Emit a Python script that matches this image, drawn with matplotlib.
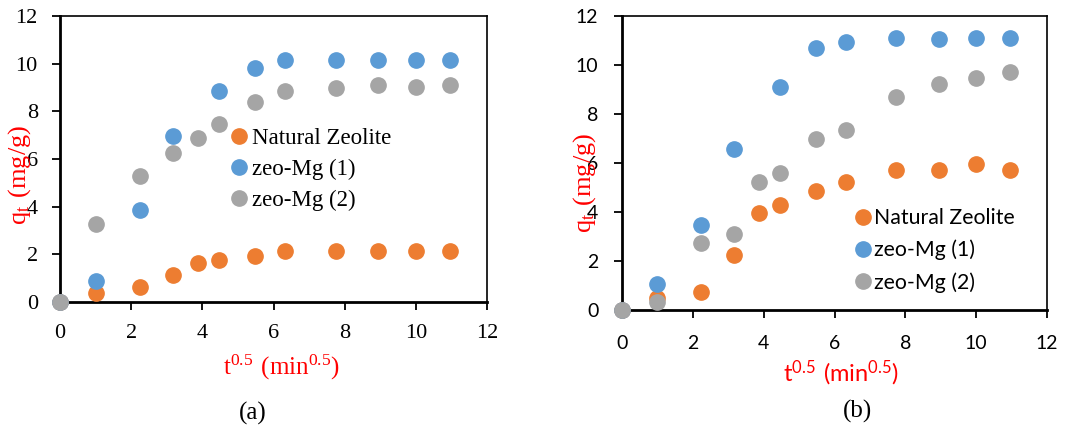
import numpy as np
import matplotlib
matplotlib.use("Agg")
import matplotlib.pyplot as plt

# sqrt(time) values
t_sqrt = [0, 1.0, 2.236, 3.162, 3.873, 4.472, 5.477, 6.325, 7.746, 8.944, 10.0, 10.954]

# Panel (a)
a_natural = [0, 0.36, 0.62, 1.12, 1.62, 1.75, 1.94, 2.13, 2.13, 2.15, 2.13, 2.13]
a_mg1 = [0, 0.88, 3.87, 6.98, np.nan, 8.87, 9.83, 10.15, 10.14, 10.14, 10.14, 10.14]
a_mg2 = [0, 3.26, 5.30, 6.24, 6.87, 7.48, 8.38, 8.85, 8.99, 9.10, 9.03, 9.10]

# Panel (b)
b_natural = [0, 0.48, 0.72, 2.23, 3.97, 4.27, 4.84, 5.24, 5.71, 5.71, 5.97, 5.71]
b_mg1 = [0, 1.07, 3.47, 6.59, np.nan, 9.09, 10.68, 10.93, 11.09, 11.06, 11.09, 11.09]
b_mg2 = [0, 0.34, 2.72, 3.09, 5.22, 5.59, 6.97, 7.35, 8.71, 9.21, 9.46, 9.73]

labels = ["Natural Zeolite", "zeo-Mg (1)", "zeo-Mg (2)"]
colors = ["#ED7D31", "#5B9BD5", "#A5A5A5"]
ticks = [0, 2, 4, 6, 8, 10, 12]

SERIF = "Liberation Serif"
SANS = "Lato"

fig = plt.figure(figsize=(10.79, 4.32), dpi=100)
axa = fig.add_axes([60/1079, 1-302/432, 427/1079, 286/432])
axb = fig.add_axes([622/1079, 1-310/432, 425/1079, 294/432])

def draw(ax, series, tickfont, ticksize, xpad, ypad, legfont, legsize, legspace, legpos,
         xlabfont, xlabsize, xlabpos, ylabpos, cap, cappos):
    for y, lab, c in zip(series, labels, colors):
        ax.plot(t_sqrt, y, 'o', ms=11, color=c, label=lab, clip_on=False, zorder=3)
    ax.set_xlim(0, 12)
    ax.set_ylim(0, 12)
    ax.set_xticks(ticks)
    ax.set_yticks(ticks)
    ax.tick_params(direction='out', length=6, width=1.3, labelsize=ticksize)
    ax.tick_params(axis='x', pad=xpad)
    ax.tick_params(axis='y', pad=ypad)
    for lab in ax.get_xticklabels() + ax.get_yticklabels():
        lab.set_fontfamily(tickfont)
    for s in ['left', 'bottom']:
        ax.spines[s].set_linewidth(2)
    for s in ['top', 'right']:
        ax.spines[s].set_linewidth(1.2)
    ax.legend(loc='upper left', bbox_to_anchor=legpos, bbox_transform=fig.transFigure,
              frameon=False, handletextpad=0.05, labelspacing=legspace, handlelength=1.0,
              borderaxespad=0, borderpad=0,
              prop={'family': legfont, 'size': legsize})
    fig.text(xlabpos[0], xlabpos[1], r'$\mathregular{t^{0.5}\ (min^{0.5})}$', color='red',
             ha='center', va='center', fontsize=xlabsize, family=xlabfont)
    fig.text(ylabpos[0], ylabpos[1], r'$\mathregular{q_t\ (mg/g)}$', color='red',
             ha='center', va='center', fontsize=19, family=SERIF, rotation=90)
    fig.text(cappos[0], cappos[1], cap, ha='center', va='center', fontsize=18, family=SERIF)

draw(axa, [a_natural, a_mg1, a_mg2], SERIF, 16, 10, 10, SERIF, 16.5, 0.42,
     (228/1079, 1-128/432),
     SERIF, 18, (281/1079, 1-367/432), (20/1079, 1-175/432), "(a)", (253/1079, 1-413/432))
draw(axb, [b_natural, b_mg1, b_mg2], SANS, 14, 12, 11, SANS, 15.3, 0.55,
     (852/1079, 1-208/432),
     SANS, 17, (841/1079, 1-373/432), (585/1079, 1-183/432), "(b)", (858/1079, 1-411/432))

fig.savefig("out.png", dpi=100)
